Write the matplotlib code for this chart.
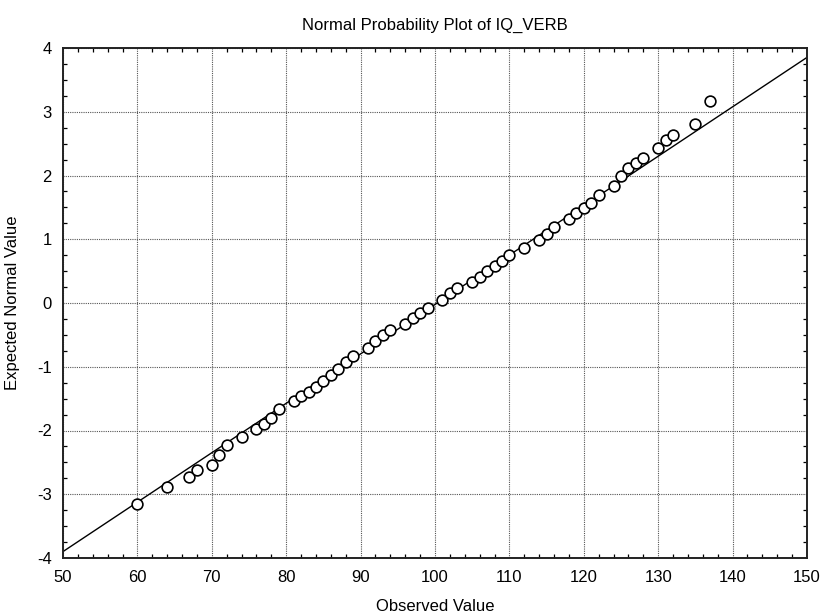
import matplotlib
matplotlib.use("Agg")
import matplotlib.pyplot as plt
from matplotlib.ticker import MultipleLocator
import numpy as np

plt.rcParams['font.family'] = ['Liberation Sans', 'DejaVu Sans']
plt.rcParams['axes.unicode_minus'] = False

# Observed IQ_VERB scores and their expected normal values
observed = [60, 64, 67, 68, 70, 71, 72, 74, 76, 77, 78, 79,
            81, 82, 83, 84, 85, 86, 87, 88, 89,
            91, 92, 93, 94, 96, 97, 98, 99,
            101, 102, 103, 105, 106, 107, 108, 109, 110,
            112, 114, 115, 116, 118, 119, 120, 121, 122,
            124, 125, 126, 127, 128, 130, 131, 132, 135, 137]
expected = [-3.16, -2.88, -2.73, -2.62, -2.54, -2.38, -2.23, -2.10, -1.98, -1.90, -1.80, -1.66,
            -1.54, -1.46, -1.39, -1.31, -1.22, -1.13, -1.04, -0.93, -0.83,
            -0.71, -0.60, -0.50, -0.42, -0.33, -0.24, -0.16, -0.08,
            0.05, 0.15, 0.24, 0.33, 0.41, 0.50, 0.58, 0.66, 0.75,
            0.87, 0.99, 1.09, 1.20, 1.31, 1.41, 1.49, 1.57, 1.69,
            1.83, 2.00, 2.12, 2.19, 2.27, 2.43, 2.56, 2.64, 2.81, 3.17]

# Reference normal line parameters
line_mean = 100.3
line_sd = 12.9

x_ticks = [50, 60, 70, 80, 90, 100, 110, 120, 130, 140, 150]
y_ticks = [-4, -3, -2, -1, 0, 1, 2, 3, 4]

fig = plt.figure(figsize=(8.23, 6.15), dpi=100)
ax = fig.add_axes([63 / 823, 1 - 558 / 615, 744 / 823, 510 / 615])

ax.set_xlim(x_ticks[0], x_ticks[-1])
ax.set_ylim(y_ticks[0], y_ticks[-1])

lx = np.array([x_ticks[0], x_ticks[-1]], dtype=float)
ax.plot(lx, (lx - line_mean) / line_sd, color='black', lw=1.0, zorder=2)
ax.scatter(observed, expected, s=60, facecolors='white', edgecolors='black',
           linewidths=1.2, zorder=3)

ax.set_xticks(x_ticks)
ax.set_yticks(y_ticks)
ax.xaxis.set_minor_locator(MultipleLocator(2))
ax.yaxis.set_minor_locator(MultipleLocator(0.25))
ax.tick_params(which='both', direction='in', top=True, right=True,
               labelsize=12, color='black')
ax.tick_params(which='major', length=0)
ax.tick_params(axis='x', which='major', pad=9)
ax.tick_params(axis='y', which='major', pad=8)
ax.tick_params(which='minor', length=3, width=0.9)

ax.grid(True, which='major', linestyle=(0, (1, 1)), color='#555555', lw=0.8)
for s in ax.spines.values():
    s.set_linewidth(1.4)
    s.set_color('#222222')

ax.set_title('Normal Probability Plot of IQ_VERB', fontsize=12, pad=13)
ax.set_xlabel('Observed Value', fontsize=12, labelpad=10)
ax.set_ylabel('Expected Normal Value', fontsize=12, labelpad=12)

fig.savefig('out.png', dpi=100)
